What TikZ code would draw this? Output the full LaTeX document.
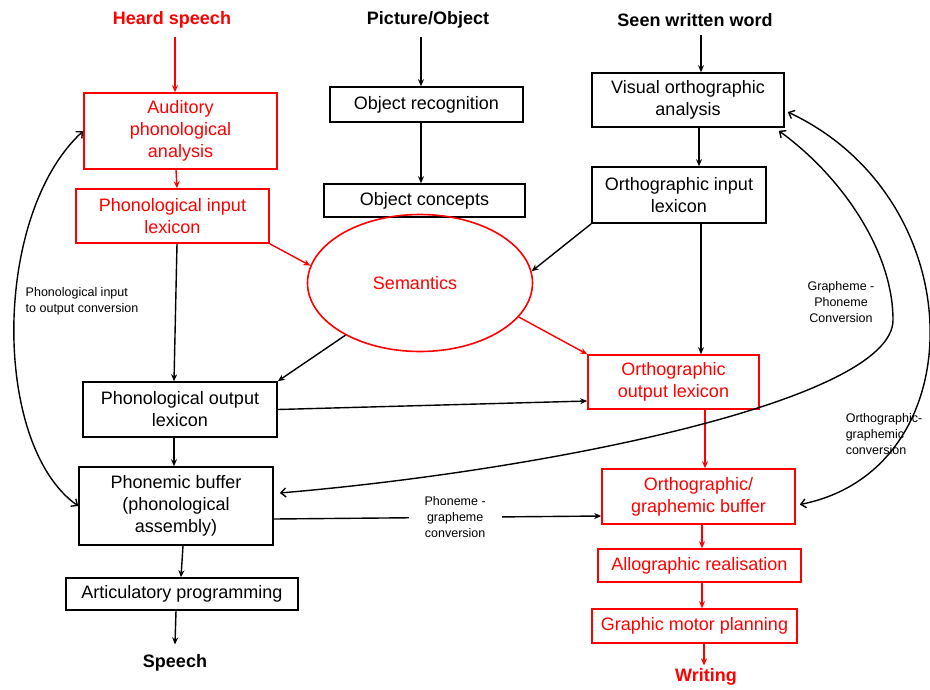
\documentclass[tikz,border=0pt]{standalone}
\usepackage{fontspec}
\setmainfont{Liberation Sans}
\usetikzlibrary{arrows.meta,calc,shapes.geometric}
\newcommand\mainfnt{\fontsize{18}{22}\selectfont}
\newcommand\smallfnt{\fontsize{12.5}{16}\selectfont}
\begin{document}
\begin{tikzpicture}[x=1pt,y=1pt,
  blk/.style={draw=black,line width=1.6pt,inner sep=0pt,align=center,font=\mainfnt,text=black},
  rbox/.style={blk,draw=red,text=red},
  ttl/.style={font=\mainfnt\bfseries,inner sep=0pt,text=black},
  rttl/.style={ttl,text=red},
  lbl/.style={font=\smallfnt,inner sep=0pt,text=black},
  arr/.style={-{Stealth[length=7pt,width=6pt]},line width=1.4pt,draw=black},
  rarr/.style={arr,draw=red},
  curv/.style={{Straight Barb[length=5pt,width=9pt]}-{Straight Barb[length=5pt,width=9pt]},line width=1.4pt,draw=black}
]
\useasboundingbox (0,0) rectangle (930,-689);

% titles
\node[rttl] (heard) at (172,-20) {Heard speech};
\node[ttl] (picobj) at (428,-20) {Picture/Object};
\node[ttl] (seen) at (695,-20) {Seen written word};
\node[ttl] (speech) at (175,-663) {Speech};
\node[rttl] (writing) at (706,-677) {Writing};

% boxes
\node[rbox,minimum width=193,minimum height=76] (aud) at (180.5,-131) {Auditory\\phonological\\analysis};
\node[rbox,minimum width=193,minimum height=54] (pin) at (172.5,-216) {Phonological input\\lexicon};
\node[blk,minimum width=193,minimum height=35] (orec) at (426.5,-104.5) {Object recognition};
\node[blk,minimum width=201,minimum height=33] (ocon) at (424.5,-200.5) {Object concepts};
\node[blk,minimum width=192,minimum height=54] (vis) at (688,-100) {Visual orthographic\\analysis};
\node[blk,minimum width=174,minimum height=56] (oin) at (679,-195) {Orthographic input\\lexicon};
\node[ellipse,draw=red,line width=1.6pt,minimum width=225,minimum height=137,inner sep=0pt,font=\mainfnt,text=red,text depth=0pt] (sem) at (420,-283) {\hspace*{-10pt}Semantics};
\node[blk,minimum width=194,minimum height=55] (pout) at (180,-409.5) {Phonological output\\lexicon};
\node[rbox,minimum width=171,minimum height=54] (oout) at (673.5,-382) {Orthographic\\output lexicon};
\node[blk,minimum width=194,minimum height=78] (pbuf) at (176,-506) {Phonemic buffer\\(phonological\\assembly)};
\node[rbox,minimum width=193,minimum height=55] (obuf) at (698.5,-496.5) {Orthographic/\\graphemic buffer};
\node[rbox,minimum width=203,minimum height=33] (allo) at (699.5,-565.5) {Allographic realisation};
\node[rbox,minimum width=205,minimum height=34] (gmp) at (694.5,-626) {Graphic motor planning};
\node[blk,minimum width=232,minimum height=32] (art) at (182,-594) {Articulatory programming};

% vertical arrows
\draw[rarr] ([xshift=3,yshift=-8]heard.south) -- ([xshift=-5.5]aud.north);
\draw[rarr] ([xshift=-4.5]aud.south) -- ([xshift=4.5]pin.south |- pin.north);
\draw[arr] ([xshift=4.5]pin.south) -- ([xshift=-6]pout.north);
\draw[arr] ([xshift=-6]pout.south) -- ([xshift=-2]pbuf.north |- pbuf.north);
\draw[arr] ([xshift=7]pbuf.south) -- ([xshift=-1]art.north);
\draw[arr] ([xshift=-6]art.south) -- ([yshift=10]speech.north);
\draw[arr] ([xshift=-7,yshift=-8]picobj.south) -- ([xshift=-5.5]orec.north);
\draw[arr] ([xshift=-5.5]orec.south) -- ([xshift=-3.5]ocon.north);
\draw[arr] ([xshift=6,yshift=-8]seen.south) -- ([xshift=13]vis.north);
\draw[arr] ([xshift=11]vis.south) -- ([xshift=20]oin.north);
\draw[arr] ([xshift=22]oin.south) -- ([xshift=27.5]oout.north);
\draw[rarr] ([xshift=31.5]oout.south) -- ([xshift=6.5]obuf.north);
\draw[rarr] ([xshift=3.5]obuf.south) -- ([xshift=2.5]allo.north);
\draw[rarr] ([xshift=2.5]allo.south) -- ([xshift=7.5]gmp.north);
\draw[rarr] ([xshift=9.5]gmp.south) -- ([xshift=-2,yshift=3]writing.north);

% diagonal arrows
\draw[rarr] (pin.south east) -- (sem.171.6);
\draw[rarr] (sem.341.6) -- (oout.north west);
\draw[arr] (oin.south west) -- (sem.6.6);
\draw[arr] (sem.215.8) -- (pout.north east);
\draw[arr] (pout.east) -- ([yshift=-19]oout.west);
\draw[arr] ([yshift=-13]pbuf.east) -- node[lbl,pos=0.554,fill=white,inner xsep=16pt,inner ysep=2pt,align=center] (pgc) {Phoneme -\\grapheme\\conversion} ([yshift=-19.5]obuf.west);

% curved arrows
\draw[curv] (aud.west) .. controls (-8,-215) and (-8,-445) .. (pbuf.west);
\draw[curv] ($(vis.south east)+(-6,-3)$) .. controls (840,-175) and (893,-250) .. (893,-320)
   .. controls (893,-400) and (550,-470) .. ($(pbuf.east)+(6,13)$);
\draw[curv] ($(vis.east)+(3,-12)$) .. controls (975,-200) and (975,-470) .. ($(obuf.east)+(4,-8)$);

% labels
\node[lbl,align=left] (pioc) at (82,-301.5) {Phonological input\\to output conversion};
\node[lbl,align=center] (gpc) at (841,-302) {Grapheme -\\Phoneme\\Conversion};
\node[lbl,align=left] (ogc) at (884,-434) {Orthographic-\\graphemic\\conversion};
\end{tikzpicture}
\end{document}
